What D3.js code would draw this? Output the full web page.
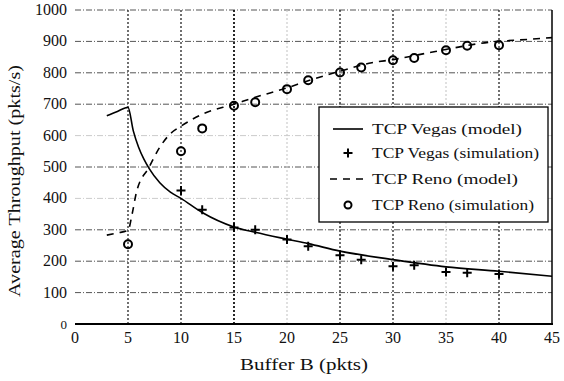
<!DOCTYPE html>
<meta charset="utf-8">
<html lang="en">
<head>
<title>TCP Vegas vs Reno throughput</title>
<style>
  body { margin: 0; background: #fff; }
  svg text { font-family: "Liberation Serif", "Times New Roman", serif; fill: #111; }
</style>
</head>
<body>
<div id="chart"></div>
<script src="https://d3js.org/d3.v7.min.js"></script>
<script>
// data
var xTicks = [0, 5, 10, 15, 20, 25, 30, 35, 40, 45];
var yTicks = [0, 100, 200, 300, 400, 500, 600, 700, 800, 900, 1000];

var vegasModelB = [3, 4, 5, 5.5, 6, 6.5, 7, 8, 9, 10, 12, 15, 17, 20, 22, 25, 30, 35, 40, 45];
var vegasModelT = [663, 677, 690, 615, 563, 525, 495, 450, 420, 400, 355, 309, 292, 270, 256, 232, 205, 182, 168, 152];

var vegasSimB = [10, 12, 15, 17, 20, 22, 25, 27, 30, 32, 35, 37, 40];
var vegasSimT = [425, 364, 307, 300, 269, 248, 219, 205, 184, 187, 166, 163, 159];

var renoModelB = [3, 4, 5, 5.4, 5.8, 7, 8, 9, 10, 12, 15, 17, 20, 22, 25, 28, 30, 34, 39, 43, 45];
var renoModelT = [283, 290, 298, 352, 420, 500, 563, 606, 630, 668, 700, 722, 752, 775, 805, 832, 842, 868, 897, 907, 912];

var renoSimB = [5, 10, 12, 15, 17, 20, 22, 25, 27, 30, 32, 35, 37, 40];
var renoSimT = [254, 550, 623, 695, 706, 748, 776, 801, 817, 840, 847, 872, 886, 888];

var legendLabels = ["TCP Vegas (model)", "TCP Vegas (simulation)", "TCP Reno (model)", "TCP Reno (simulation)"];

var W = 564, H = 381;
var x = d3.scaleLinear().domain([0, 45]).range([75, 552]);
var y = d3.scaleLinear().domain([0, 1000]).range([324, 10]);

var svg = d3.select("#chart").append("svg")
    .attr("width", W).attr("height", H);

// grid
var grid = svg.append("g");
grid.selectAll(".hg").data(yTicks.filter(d => d > 0)).enter().append("line")
    .attr("x1", x(0)).attr("x2", x(45))
    .attr("y1", d => y(d)).attr("y2", d => y(d))
    .attr("stroke", d => (d == 400 || d == 600) ? "#ccc" : "#555")
    .attr("stroke-width", 1)
    .attr("stroke-dasharray", "6,2,1,2");
grid.selectAll(".vg").data(xTicks.filter(d => d > 0 && d < 45)).enter().append("line")
    .attr("x1", d => x(d)).attr("x2", d => x(d))
    .attr("y1", y(1000)).attr("y2", y(0))
    .attr("stroke", d => (d == 20 || d == 35) ? "#ccc" : "#111")
    .attr("stroke-width", d => d == 15 ? 1.8 : 1.2)
    .attr("stroke-dasharray", "2,2");

// axes frame
svg.append("line").attr("x1", x(0)).attr("x2", x(45) + 1)
    .attr("y1", y(0)).attr("y2", y(0)).attr("stroke", "#000").attr("stroke-width", 2.2);
svg.append("line").attr("x1", x(45)).attr("x2", x(45))
    .attr("y1", y(1000)).attr("y2", y(0)).attr("stroke", "#000").attr("stroke-width", 1.5);

// tick labels
svg.append("g").selectAll("text").data(xTicks).enter().append("text")
    .attr("x", d => x(d)).attr("y", 343)
    .attr("text-anchor", "middle").attr("font-size", 16)
    .text(d => d);
svg.append("g").selectAll("text").data(yTicks).enter().append("text")
    .attr("x", 67).attr("y", d => y(d) + 5)
    .attr("text-anchor", "end").attr("font-size", d => d == 0 ? 13 : 16)
    .text(d => d);

// axis titles
svg.append("text").attr("x", 304).attr("y", 370)
    .attr("text-anchor", "middle").attr("font-size", 16)
    .attr("textLength", 128).attr("lengthAdjust", "spacingAndGlyphs")
    .text("Buffer B (pkts)");
svg.append("text").attr("transform", "translate(20,181) rotate(-90)")
    .attr("text-anchor", "middle").attr("font-size", 16)
    .attr("textLength", 232).attr("lengthAdjust", "spacingAndGlyphs")
    .text("Average Throughput (pkts/s)");

// curves
var line = d3.line().x(d => x(d[0])).y(d => y(d[1])).curve(d3.curveMonotoneX);
svg.append("path").datum(d3.zip(vegasModelB, vegasModelT))
    .attr("d", line).attr("fill", "none").attr("stroke", "#000").attr("stroke-width", 1.6);
svg.append("path").datum(d3.zip(renoModelB, renoModelT))
    .attr("d", line).attr("fill", "none").attr("stroke", "#000").attr("stroke-width", 1.6)
    .attr("stroke-dasharray", "7,6");

function plus(g, cx, cy) {
  g.append("path").attr("d", "M" + (cx - 4.5) + "," + cy + "h9M" + cx + "," + (cy - 4.5) + "v9")
    .attr("stroke", "#000").attr("stroke-width", 2).attr("fill", "none");
}
var marks = svg.append("g");
d3.zip(vegasSimB, vegasSimT).forEach(d => plus(marks, x(d[0]), y(d[1])));
marks.selectAll("circle").data(d3.zip(renoSimB, renoSimT)).enter().append("circle")
    .attr("cx", d => x(d[0])).attr("cy", d => y(d[1])).attr("r", 4)
    .attr("fill", "none").attr("stroke", "#000").attr("stroke-width", 2);

// legend
var lg = svg.append("g");
lg.append("rect").attr("x", 319).attr("y", 107).attr("width", 229).attr("height", 115)
    .attr("fill", "#fff").attr("stroke", "#000").attr("stroke-width", 1.3);
var rowY = [129, 153, 179, 205];
var textW = [150, 167, 146, 162];
lg.append("line").attr("x1", 333).attr("x2", 363).attr("y1", rowY[0]).attr("y2", rowY[0])
    .attr("stroke", "#000").attr("stroke-width", 1.6);
plus(lg, 348, rowY[1]);
lg.append("line").attr("x1", 330).attr("x2", 366).attr("y1", rowY[2]).attr("y2", rowY[2])
    .attr("stroke", "#000").attr("stroke-width", 1.6).attr("stroke-dasharray", "7,6");
lg.append("circle").attr("cx", 348).attr("cy", rowY[3]).attr("r", 3.5)
    .attr("fill", "none").attr("stroke", "#000").attr("stroke-width", 2);
lg.selectAll("text.l").data(legendLabels).enter().append("text")
    .attr("x", 372).attr("y", (d, i) => rowY[i] + 5)
    .attr("font-size", 15)
    .attr("textLength", (d, i) => textW[i]).attr("lengthAdjust", "spacingAndGlyphs")
    .text(d => d);
</script>
</body>
</html>
